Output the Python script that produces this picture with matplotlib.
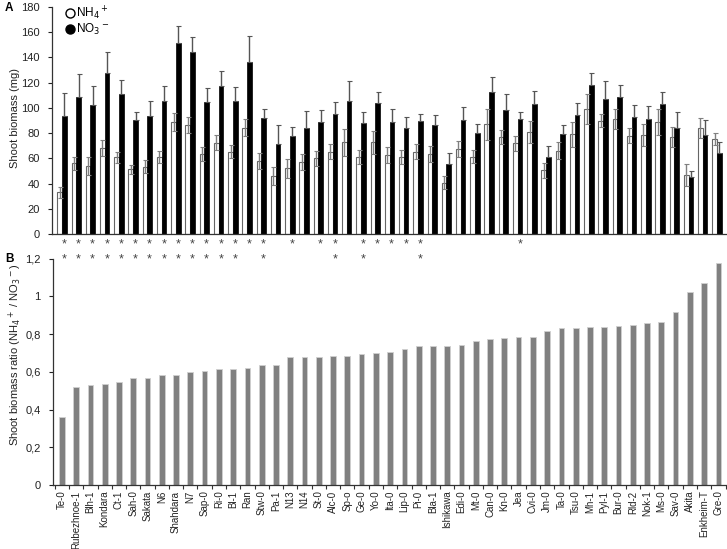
import numpy as np
import matplotlib
matplotlib.use("Agg")
import matplotlib.pyplot as plt
from matplotlib.lines import Line2D
from matplotlib.ticker import FixedLocator, FuncFormatter

plt.rcParams['font.family'] = ['Liberation Sans', 'DejaVu Sans']

# accessions, sorted by NH4+/NO3- ratio
accessions = ["Te-0", "Rubezhnoe-1", "Blh-1", "Kondara", "Ct-1", "Sah-0", "Sakata", "N6",
              "Shahdara", "N7", "Sap-0", "Ri-0", "Bl-1", "Ran", "Stw-0", "Pa-1", "N13", "N14",
              "St-0", "Alc-0", "Sp-o", "Ge-0", "Yo-0", "Ita-0", "Lip-0", "Pi-0", "Bla-1",
              "Ishikawa", "Edi-0", "Mt-0", "Can-0", "Kn-0", "Jea", "Cvi-0", "Jm-0", "Ta-0",
              "Tsu-0", "Mh-1", "Pyl-1", "Bur-0", "Rld-2", "Nok-1", "Ms-0", "Sav-0", "Akita",
              "Enkheim-T", "Gre-0"]

# shoot biomass (mg) on NH4+
nh4_mean = [33.2, 56.0, 54.0, 68.3, 61.0, 51.4, 53.5, 61.4, 88.6, 86.5, 63.3, 72.5, 65.4, 84.4,
            58.0, 46.1, 52.2, 57.2, 60.1, 65.4, 72.8, 61.0, 72.8, 62.7, 61.0, 65.4, 63.5, 40.9,
            67.2, 61.4, 87.0, 77.0, 72.0, 80.9, 50.6, 66.2, 79.1, 98.9, 89.9, 91.2, 78.0, 78.6,
            89.1, 77.0, 46.9, 84.1, 75.1]
nh4_err = [4.4, 5.4, 7.4, 6.3, 4.4, 3.4, 5.3, 4.8, 7.1, 6.0, 5.5, 6.1, 5.3, 6.8,
           6.0, 7.4, 7.4, 6.1, 5.8, 5.8, 10.5, 5.7, 9.2, 6.6, 5.7, 5.8, 6.6, 5.2,
           6.4, 5.3, 12.4, 5.3, 5.8, 8.7, 5.8, 6.6, 10.0, 11.8, 5.3, 7.7, 5.8, 8.9,
           10.3, 8.2, 8.5, 7.9, 4.8]

# shoot biomass (mg) on NO3-
no3_mean = [93.6, 108.4, 102.0, 127.3, 111.3, 90.2, 93.6, 105.7, 151.0, 144.0, 105.0, 117.6,
            105.7, 136.6, 92.0, 71.7, 77.5, 84.4, 88.6, 95.4, 105.7, 87.8, 103.6, 88.8, 84.4,
            89.6, 86.7, 55.4, 90.4, 79.9, 112.3, 98.3, 91.2, 102.8, 61.4, 79.4, 94.6, 118.1,
            107.3, 108.4, 92.5, 91.2, 103.1, 84.1, 45.6, 78.6, 64.6]
no3_err = [18.4, 18.1, 15.6, 16.7, 10.7, 6.6, 12.1, 11.9, 14.0, 12.3, 10.7, 11.4,
           10.6, 20.5, 7.4, 15.0, 7.7, 13.4, 9.7, 9.0, 15.6, 8.7, 9.0, 10.6, 8.1,
           5.8, 7.9, 8.9, 10.0, 7.1, 12.1, 13.0, 5.8, 10.3, 8.7, 7.3, 9.3, 9.2,
           13.7, 9.4, 9.5, 10.3, 9.2, 12.9, 4.8, 11.6, 8.2]

# NH4+/NO3- shoot biomass ratio
ratio = [0.36, 0.522, 0.529, 0.536, 0.547, 0.570, 0.570, 0.582, 0.582, 0.601, 0.605, 0.617,
         0.617, 0.621, 0.635, 0.635, 0.677, 0.681, 0.681, 0.684, 0.684, 0.693, 0.702, 0.705,
         0.723, 0.735, 0.735, 0.739, 0.744, 0.765, 0.774, 0.781, 0.787, 0.787, 0.817, 0.832,
         0.832, 0.836, 0.836, 0.845, 0.848, 0.861, 0.864, 0.917, 1.021, 1.072, 1.175]

# significance marks (indices of accessions)
stars_row1 = [0, 1, 2, 3, 4, 5, 6, 7, 8, 9, 10, 11, 12, 13, 14, 16, 18, 19, 21, 22, 23, 24, 25, 32]
stars_row2 = [0, 1, 2, 3, 4, 5, 6, 7, 8, 9, 10, 11, 12, 14, 19, 21, 25]

x = np.arange(len(accessions))
W, H = 727, 549
fig = plt.figure(figsize=(W / 100, H / 100), dpi=100)

axA = fig.add_axes([52 / W, 1 - 234.3 / H, (727 - 52) / W, (234.3 - 6.7) / H])
axB = fig.add_axes([53.3 / W, 1 - 485 / H, (727 - 53.3) / W, (485 - 258.7) / H])

tick_col = "#222222"

# ---- panel A: biomass
bw = 0.33
axA.bar(x - bw / 2, nh4_mean, bw, color="white", edgecolor="#666666", linewidth=0.8, zorder=2)
axA.bar(x + bw / 2, no3_mean, bw, color="black", edgecolor="black", linewidth=0.5, zorder=2)
axA.errorbar(x - bw / 2, nh4_mean, yerr=nh4_err, fmt="none", ecolor="#808080",
             elinewidth=1.0, capsize=1.8, capthick=0.8, zorder=3)
axA.errorbar(x + bw / 2, no3_mean, yerr=[np.zeros(len(no3_err)), no3_err], fmt="none",
             ecolor="#555555", elinewidth=1.0, capsize=1.8, capthick=0.8, zorder=3)

axA.set_xlim(-0.7, 46.7)
axA.set_ylim(0, 180)
axA.set_yticks(np.arange(0, 181, 20))
axA.set_xticks([])
for s in ["top", "right"]:
    axA.spines[s].set_visible(False)
for s in ["left", "bottom"]:
    axA.spines[s].set_color("#333333")
    axA.spines[s].set_linewidth(0.9)
axA.tick_params(axis="y", direction="out", length=3, width=0.8, labelsize=8,
                colors=tick_col, pad=6)

for i in stars_row1:
    axA.text(x[i] + 0.15, -0.045, "*", transform=axA.get_xaxis_transform(),
             ha="center", va="center", fontsize=9, color="#444444")
for i in stars_row2:
    axA.text(x[i] + 0.15, -0.11, "*", transform=axA.get_xaxis_transform(),
             ha="center", va="center", fontsize=9, color="#444444")

handles = [Line2D([], [], marker="o", ls="none", mfc="white", mec="black", ms=6.5, mew=1.0),
           Line2D([], [], marker="o", ls="none", mfc="black", mec="black", ms=6.5, mew=1.0)]
axA.legend(handles, ["NH$_4$$^+$", "NO$_3$$^-$"], loc="upper left", bbox_to_anchor=(0.015, 1.03),
           frameon=False, handlelength=0.6, handletextpad=0.15, labelspacing=0.0,
           borderaxespad=0, fontsize=8.5)

# ---- panel B: ratio
axB.bar(x, ratio, 0.4, color="#808080", edgecolor="#d0d0d0", linewidth=0.6, zorder=2)
axB.set_xlim(-0.6, 46.6)
axB.set_ylim(0, 1.2)
axB.set_yticks(np.arange(0, 1.21, 0.2))
axB.yaxis.set_major_formatter(FuncFormatter(lambda v, p: ("%g" % round(v, 1)).replace(".", ",")))
axB.set_xticks(x)
axB.set_xticklabels(accessions, rotation=90, fontsize=7, color=tick_col)
axB.xaxis.set_minor_locator(FixedLocator(np.arange(-0.5, 47, 1)))
axB.tick_params(axis="x", which="major", length=0, pad=4)
axB.tick_params(axis="x", which="minor", length=3, width=0.8, color="#333333")
axB.tick_params(axis="y", direction="out", length=3, width=0.8, labelsize=8,
                colors=tick_col, pad=6)
for s in ["top", "right"]:
    axB.spines[s].set_visible(False)
for s in ["left", "bottom"]:
    axB.spines[s].set_color("#333333")
    axB.spines[s].set_linewidth(0.9)

# labels
fig.text(15 / W, 1 - 118 / H, "Shoot biomass (mg)", rotation=90, ha="center", va="center",
         fontsize=8, color=tick_col)
fig.text(15 / W, 1 - 355 / H, "Shoot biomass ratio (NH$_4$$^+$ / NO$_3$$^-$)", rotation=90,
         ha="center", va="center", fontsize=8, color=tick_col)
fig.text(9 / W, 1 - 8 / H, "A", ha="center", va="center", fontsize=8.5, fontweight="bold")
fig.text(9 / W, 1 - 259 / H, "B", ha="center", va="center", fontsize=8.5, fontweight="bold")

fig.savefig("out.png", dpi=100)
